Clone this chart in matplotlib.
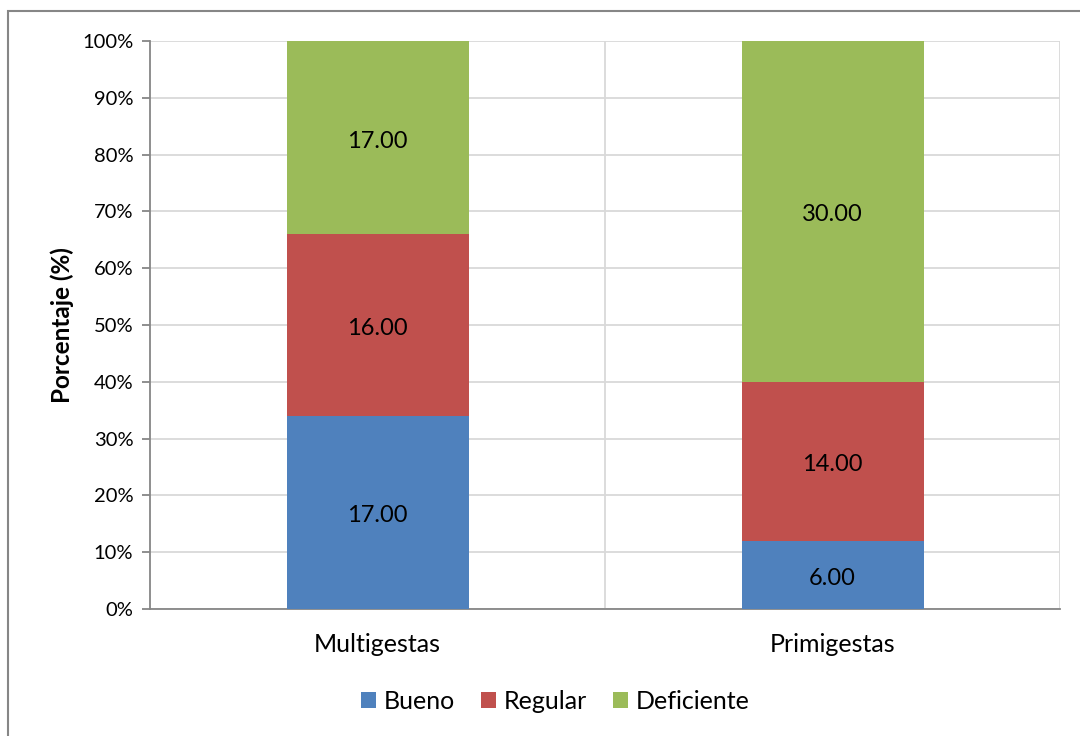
import numpy as np
import matplotlib.pyplot as plt
from matplotlib.patches import Rectangle

plt.rcParams['font.family'] = ['Lato', 'DejaVu Sans']

# Datos: número de casos por grupo y nivel
grupos = ['Multigestas', 'Primigestas']
niveles = ['Bueno', 'Regular', 'Deficiente']
bueno = [17, 6]
regular = [16, 14]
deficiente = [17, 30]
colores = ['#4f81bd', '#c0504d', '#9bbb59']

valores = np.array([bueno, regular, deficiente], dtype=float)
totales = valores.sum(axis=0)
porcentajes = valores / totales * 100

fig = plt.figure(figsize=(10.8, 7.36), dpi=100)
ax = fig.add_axes([150 / 1080, 1 - 609 / 736, 910 / 1080, 568 / 736])

# Marco exterior del gráfico
fig.patches.append(Rectangle((8 / 1080, -0.05), 1.1, 1 - 11 / 736 + 0.05,
                             transform=fig.transFigure, fill=False,
                             edgecolor='#868686', linewidth=1.5))

x = np.arange(len(grupos))
base = np.zeros(len(grupos))
for i, nivel in enumerate(niveles):
    ax.bar(x, porcentajes[i], 0.4, bottom=base, color=colores[i],
           label=nivel, zorder=3)
    for xi, b, p, v in zip(x, base, porcentajes[i], valores[i]):
        ax.annotate(f'{v:.2f}', (xi, b + p / 2), xytext=(0, -2.5),
                    textcoords='offset points', ha='center', va='center',
                    fontsize=17, color='black', zorder=4)
    base += porcentajes[i]

ax.set_xlim(-0.5, 1.5)
ax.set_ylim(0, 100)
ax.set_yticks(np.arange(0, 101, 10))
ax.set_yticklabels([f'{t}%' for t in range(0, 101, 10)], fontsize=14.5)
ax.set_xticks(x)
ax.set_xticklabels(grupos, fontsize=18)
ax.set_xticks([0.5, 1.5], minor=True)

ax.grid(axis='y', color='#d9d9d9', linewidth=1.3, zorder=0)
ax.grid(axis='x', which='minor', color='#d9d9d9', linewidth=1.3, zorder=0)
ax.tick_params(axis='x', which='both', length=0, pad=17)
ax.tick_params(axis='y', length=6, color='#868686', width=1.3, pad=6)

for lado in ['top', 'right']:
    ax.spines[lado].set_visible(False)
ax.spines['left'].set_color('#868686')
ax.spines['bottom'].set_color('#868686')
ax.spines['left'].set_linewidth(1.3)
ax.spines['bottom'].set_linewidth(1.3)

ax.set_ylabel('Porcentaje (%)', fontsize=17.5, fontweight='bold', labelpad=5.5)

ax.legend(loc='center', bbox_to_anchor=(0.445, -0.163), ncol=3,
          frameon=False, fontsize=18, handlelength=0.6, handleheight=0.6,
          handletextpad=0.3, columnspacing=1.05)

fig.savefig('out.png', dpi=100)
